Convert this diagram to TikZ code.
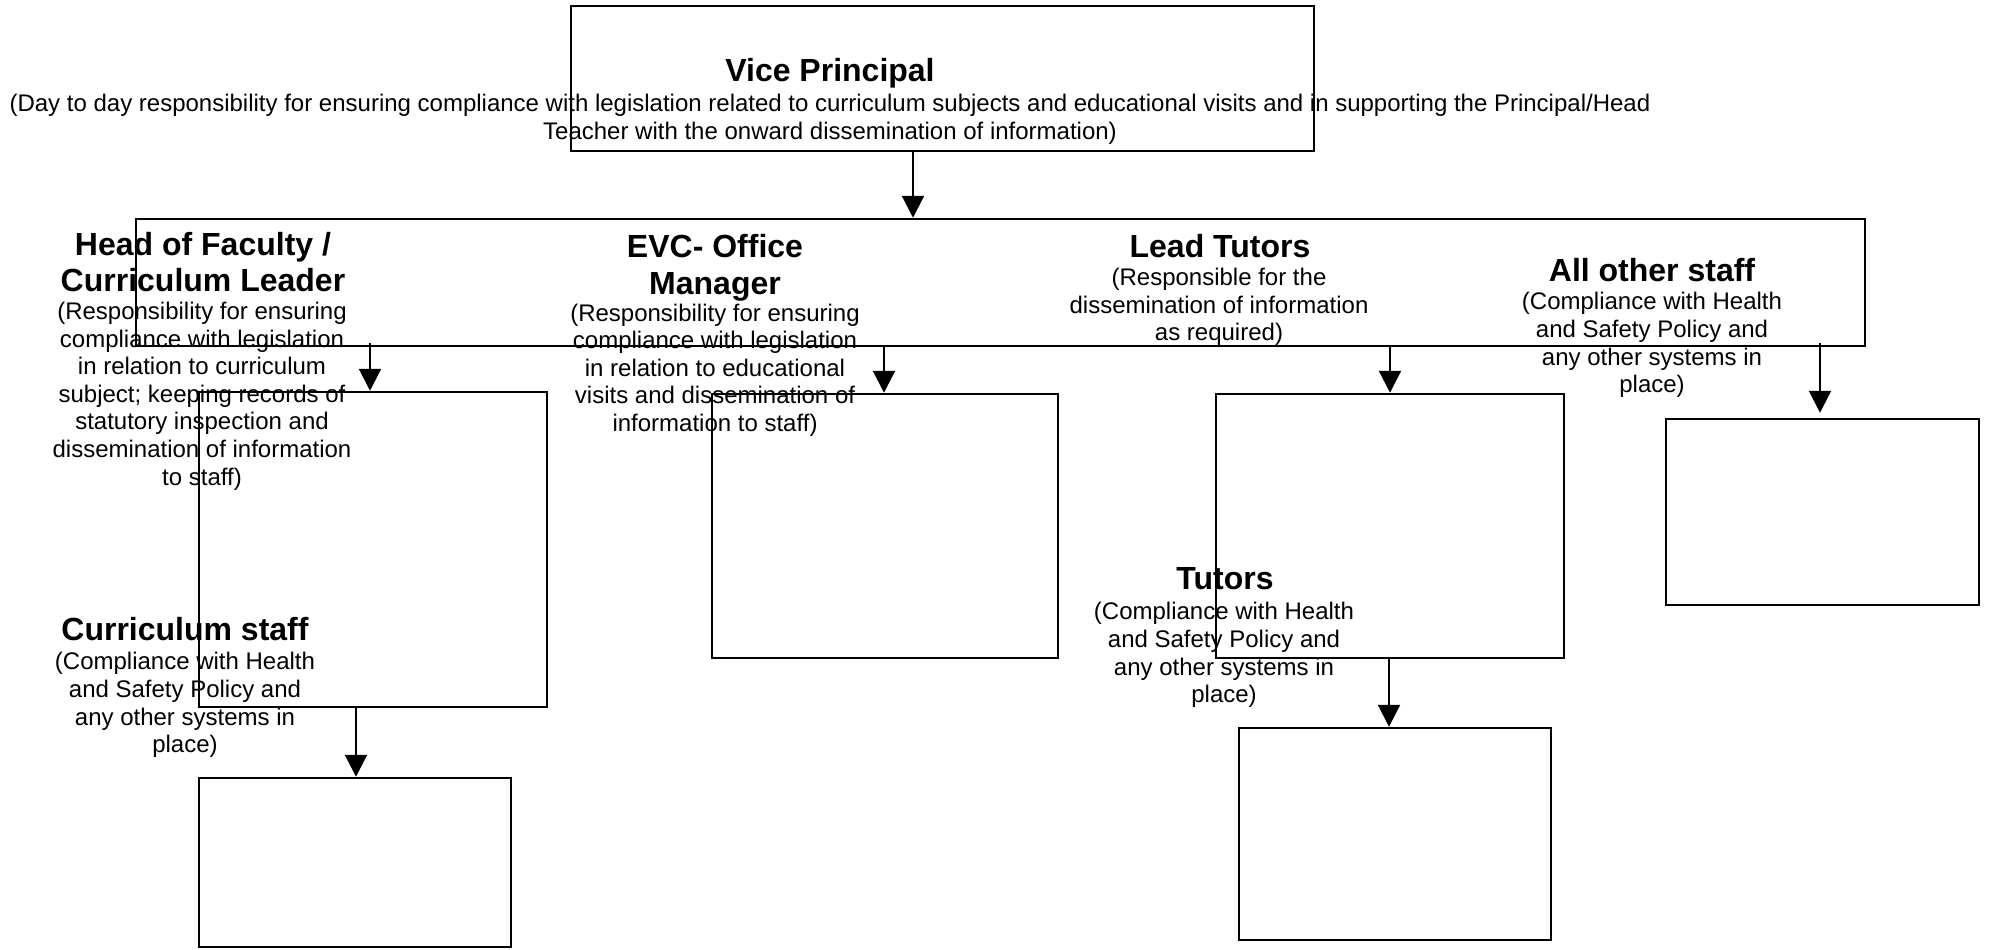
\documentclass[tikz,border=0pt]{standalone}
\usepackage{fontspec}
\setmainfont{Liberation Sans}
\usetikzlibrary{arrows.meta}
\begin{document}
\begin{tikzpicture}[x=1pt,y=-1pt,
  box/.style={draw=black,line width=2.5pt,inner sep=0pt,fill=none},
  ttl/.style={font=\fontsize{32}{36.8}\selectfont\bfseries,align=center,inner sep=0pt},
  dsc/.style={font=\fontsize{24}{27.6}\selectfont,align=center,inner sep=0pt},
  arr/.style={line width=2.2pt,-{Triangle[width=22pt,length=22pt]}}]
\fill[white] (0,0) rectangle (1989,950);
\useasboundingbox (0,0) rectangle (1989,950);
% boxes
\node[box,minimum width=743pt,minimum height=145pt] (vp) at (942.5,78.5) {};
\node[box,minimum width=1729pt,minimum height=127pt] (big) at (1000.5,282.5) {};
\node[box,minimum width=348pt,minimum height=315pt] (hof) at (373,549.5) {};
\node[box,minimum width=312pt,minimum height=169pt] (cs) at (355,862.5) {};
\node[box,minimum width=346pt,minimum height=264pt] (evc) at (885,526) {};
\node[box,minimum width=348pt,minimum height=264pt] (lt) at (1390,526) {};
\node[box,minimum width=312pt,minimum height=212pt] (tut) at (1395,834) {};
\node[box,minimum width=313pt,minimum height=186pt] (aos) at (1822.5,512) {};
% texts
\node[ttl] (vpt) at (830,73.5) {Vice Principal};
\node[dsc] (vpd) at (830,119) {(Day to day responsibility for ensuring compliance with legislation related to curriculum subjects and educational visits and in supporting the Principal/Head\\Teacher with the onward dissemination of information)};
\node[ttl] (hoft) at (203,262) {Head of Faculty /\\Curriculum Leader};
\node[dsc] (hofd) at (202,396) {(Responsibility for ensuring\\compliance with legislation\\in relation to curriculum\\subject; keeping records of\\statutory inspection and\\dissemination of information\\to staff)};
\node[ttl] (cst) at (185,629) {Curriculum staff};
\node[dsc] (csd) at (185,705) {(Compliance with Health\\and Safety Policy and\\any other systems in\\place)};
\node[ttl] (evct) at (715,267.5) {EVC- Office\\Manager};
\node[dsc] (evcd) at (715,370) {(Responsibility for ensuring\\compliance with legislation\\in relation to educational\\visits and dissemination of\\information to staff)};
\node[ttl] (ltt) at (1220,246) {Lead Tutors};
\node[dsc] (ltd) at (1219,307) {(Responsible for the\\dissemination of information\\as required)};
\node[ttl] (aost) at (1652,270) {All other staff};
\node[dsc] (aosd) at (1652,345) {(Compliance with Health\\and Safety Policy and\\any other systems in\\place)};
\node[ttl] (tutt) at (1225,579) {Tutors};
\node[dsc] (tutd) at (1224,655) {(Compliance with Health\\and Safety Policy and\\any other systems in\\place)};
% arrows
\coordinate (c1) at (913,0);
\coordinate (c2) at (370,0);
\coordinate (c3) at (356,0);
\coordinate (c4) at (884,0);
\coordinate (c5) at (1390,0);
\coordinate (c6) at (1389,0);
\coordinate (c7) at (1820,0);
\draw[arr] (c1 |- vp.south) -- (c1 |- big.north);
\draw[arr] ([yshift=4pt]c2 |- big.south) -- (c2 |- hof.north);
\draw[arr] (c3 |- hof.south) -- (c3 |- cs.north);
\draw[arr] (c4 |- big.south) -- (c4 |- evc.north);
\draw[arr] (c5 |- big.south) -- (c5 |- lt.north);
\draw[arr] (c6 |- lt.south) -- (c6 |- tut.north);
\draw[arr] ([yshift=4pt]c7 |- big.south) -- ([yshift=5pt]c7 |- aos.north);
\end{tikzpicture}
\end{document}
